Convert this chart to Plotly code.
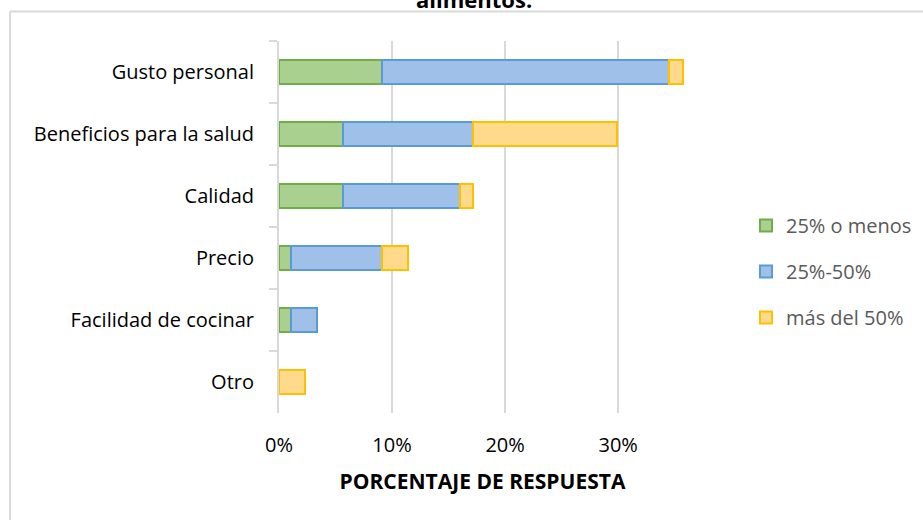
import plotly.graph_objects as go

categories = ["Gusto personal", "Beneficios para la salud", "Calidad", "Precio",
              "Facilidad de cocinar", "Otro"]
low = [9.1, 5.7, 5.7, 1.1, 1.1, None]
mid = [25.4, 11.5, 10.3, 8.0, 2.3, None]
high = [1.2, 12.7, 1.2, 2.3, None, 2.3]
series_names = ["25% o menos", "25%-50%", "más del 50%"]
x_ticks = [0, 10, 20, 30]
x_tick_labels = ["0%", "10%", "20%", "30%"]

W, H = 923, 520
L, T = 279, 41
PR, PB = 686, 413
R, B = W - PR, H - PB
pw, ph = PR - L, PB - T

def px_x(p):
    return (p - L) / pw

def px_y(p):
    return 1 - (p - T) / ph

FONT = "Open Sans"
fills = ["#a9d08e", "#9fc0e8", "#ffd98c"]
lines = ["#70ad47", "#5b9bd5", "#ffc000"]

fig = go.Figure()
for i, (name, vals) in enumerate(zip(series_names, [low, mid, high])):
    fig.add_trace(go.Bar(
        y=categories, x=vals, name=name, orientation="h",
        marker=dict(color=fills[i], line=dict(color=lines[i], width=2)),
        legendgroup=name,
    ))

fig.update_layout(
    width=W, height=H,
    margin=dict(l=L, r=R, t=T, b=B, autoexpand=False),
    barmode="stack", bargap=0.6,
    paper_bgcolor="white", plot_bgcolor="white",
    font=dict(family=FONT, size=20, color="#000000"),
    showlegend=True,
    legend=dict(
        x=px_x(746), y=px_y(206), xanchor="left", yanchor="top",
        traceorder="grouped", tracegroupgap=17,
        font=dict(family=FONT, size=20, color="#595959"),
        itemwidth=30,
    ),
    xaxis=dict(
        range=[0, 36], tickvals=x_ticks, ticktext=x_tick_labels,
        showgrid=True, gridcolor="#d9d9d9", gridwidth=2,
        zeroline=False, showline=False, ticks="", automargin=False,
        ticklabelstandoff=18,
        tickfont=dict(family=FONT, size=20, color="#000000"),
        title=dict(text="<b>PORCENTAJE DE RESPUESTA</b>", standoff=17,
                   font=dict(family=FONT, size=21, color="#000000")),
    ),
    yaxis=dict(
        categoryorder="array", categoryarray=categories, autorange="reversed",
        showline=True, linecolor="#d9d9d9", linewidth=2, automargin=False,
        ticks="outside", tickson="boundaries", ticklen=8, tickcolor="#d9d9d9",
        tickwidth=2, ticklabelstandoff=19, showgrid=False,
        tickfont=dict(family=FONT, size=20, color="#000000"),
    ),
)

# chart border (partially cropped in the original)
fig.add_shape(type="line", xref="paper", yref="paper",
              x0=px_x(10), x1=px_x(10), y0=px_y(530), y1=px_y(11.5),
              line=dict(color="#d9d9d9", width=2))
fig.add_shape(type="line", xref="paper", yref="paper",
              x0=px_x(10), x1=px_x(930), y0=px_y(11.5), y1=px_y(11.5),
              line=dict(color="#d9d9d9", width=2))

# cropped title (only its lower part is visible in the original)
fig.add_annotation(text="<b>alimentos.</b>", xref="paper", yref="paper",
                   x=px_x(474), y=px_y(16), xanchor="center", yanchor="bottom",
                   showarrow=False, font=dict(family=FONT, size=22, color="#000000"))

fig.write_html("out.html",
               config={"displayModeBar": False},
               post_script="document.body.style.margin='0';document.body.style.overflow='hidden';")
